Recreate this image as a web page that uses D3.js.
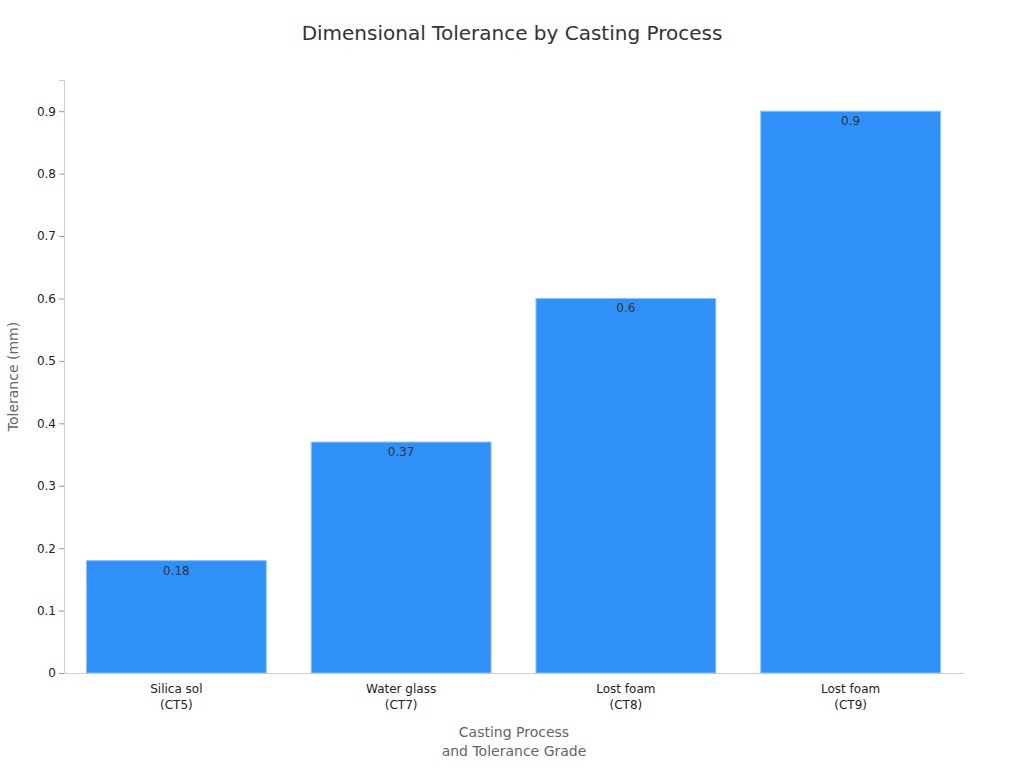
<!DOCTYPE html>
<html>
<head>
<meta charset="utf-8">
<script src="https://cdn.jsdelivr.net/npm/d3@7"></script>
<style>
  body { margin: 0; background: #fff; }
  text { font-family: "DejaVu Sans", sans-serif; }
</style>
</head>
<body>
<svg id="chart" width="1024" height="768"></svg>
<script>
const categories = [["Silica sol", "(CT5)"], ["Water glass", "(CT7)"], ["Lost foam", "(CT8)"], ["Lost foam", "(CT9)"]];
const tolerances = [0.18, 0.37, 0.6, 0.9];
const yTicks = [0, 0.1, 0.2, 0.3, 0.4, 0.5, 0.6, 0.7, 0.8, 0.9];

const margin = { left: 64, right: 61, top: 80, bottom: 95 };
const width = 1024, height = 768;
const svg = d3.select("#chart");

const x = d3.scaleBand()
  .domain(d3.range(categories.length))
  .range([margin.left, width - margin.right])
  .paddingInner(0.2)
  .paddingOuter(0.1);

const y = d3.scaleLinear()
  .domain([0, 0.95])
  .range([height - margin.bottom, margin.top]);

svg.append("text")
  .attr("x", 512).attr("y", 40)
  .attr("text-anchor", "middle")
  .attr("font-size", 20).attr("fill", "#333")
  .text("Dimensional Tolerance by Casting Process");

// y axis
const yAxis = svg.append("g")
  .attr("transform", `translate(${margin.left},0)`)
  .call(d3.axisLeft(y).tickValues(yTicks).tickFormat(d => d).tickSize(5));
yAxis.select(".domain").attr("stroke", "#ccc");
yAxis.selectAll(".tick line").attr("stroke", "#999");
yAxis.selectAll(".tick text").attr("font-size", 12).attr("fill", "#222")
  .attr("font-family", "DejaVu Sans");

// x axis
const xAxis = svg.append("g")
  .attr("transform", `translate(0,${height - margin.bottom})`)
  .call(d3.axisBottom(x).tickSize(0).tickFormat(""));
xAxis.select(".domain").attr("stroke", "#ccc");
xAxis.selectAll(".tick").each(function (d) {
  const t = d3.select(this).append("text")
    .attr("text-anchor", "middle").attr("font-size", 12).attr("fill", "#222");
  categories[d].forEach((line, i) => {
    t.append("tspan").attr("x", 0).attr("y", 20 + i * 16).text(line);
  });
});

// bars
svg.append("g").selectAll("rect")
  .data(tolerances)
  .join("rect")
  .attr("x", (d, i) => x(i))
  .attr("y", d => y(d))
  .attr("width", x.bandwidth())
  .attr("height", d => y(0) - y(d))
  .attr("fill", "#2f91f7")
  .attr("stroke", "#8cc3fb")
  .attr("stroke-width", 1);

svg.append("g").selectAll("text")
  .data(tolerances)
  .join("text")
  .attr("x", (d, i) => x(i) + x.bandwidth() / 2)
  .attr("y", d => y(d) + 14)
  .attr("text-anchor", "middle")
  .attr("font-size", 12).attr("fill", "#333")
  .text(d => d);

// axis titles
svg.append("text")
  .attr("transform", `translate(18,${(margin.top + height - margin.bottom) / 2}) rotate(-90)`)
  .attr("text-anchor", "middle").attr("font-size", 14).attr("fill", "#666")
  .text("Tolerance (mm)");

const xt = svg.append("text")
  .attr("text-anchor", "middle").attr("font-size", 14).attr("fill", "#666");
xt.append("tspan").attr("x", 514).attr("y", 737).text("Casting Process");
xt.append("tspan").attr("x", 514).attr("y", 756).text("and Tolerance Grade");
</script>
</body>
</html>
